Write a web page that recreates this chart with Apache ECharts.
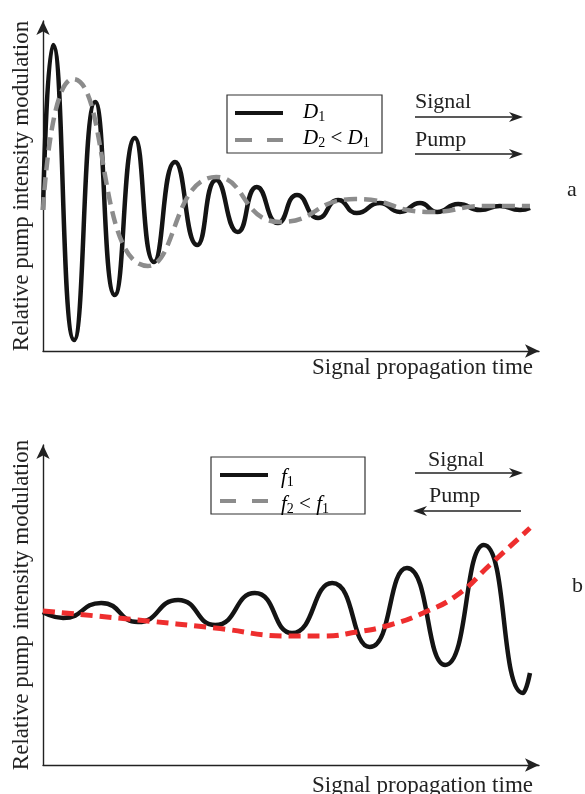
<!DOCTYPE html>
<html>
<head>
<meta charset="utf-8">
<script src="https://cdn.jsdelivr.net/npm/echarts@6/dist/echarts.min.js"></script>
<style>
html, body { margin: 0; padding: 0; background: #fff; }
#chart { width: 585px; height: 794px; }
</style>
</head>
<body>
<div id="chart"></div>
<script>
// time axis: 0..100 along the arrow, modulation: 0 = steady level

// panel a, D1 (extrema)
var timeD1 = [0, 2.0, 6.2, 10.4, 14.3, 18.3, 22.1, 26.3, 30.7, 34.5, 38.8, 42.6, 46.8, 50.6, 54.8, 58.8, 62.5, 67.1, 71.1, 75.1, 78.5, 82.7, 87.1, 91.0, 95.0, 97.0];
var modD1 = [-0.02, 1.63, -1.32, 1.06, -0.87, 0.70, -0.54, 0.46, -0.37, 0.28, -0.24, 0.21, -0.15, 0.13, -0.10, 0.08, -0.05, 0.05, -0.04, 0.05, -0.04, 0.04, -0.02, 0.02, -0.02, 0];

// panel a, D2 < D1
var timeD2 = [0, 6.0, 20.9, 34.5, 47.2, 62.2, 77.1, 88.0, 97.0];
var modD2 = [-0.02, 1.29, -0.58, 0.31, -0.14, 0.09, -0.04, 0.02, 0.02];

// panel b, f1
var timeF1 = [0, 4.0, 11.6, 18.9, 26.9, 34.3, 42.2, 49.6, 57.6, 65.1, 72.5, 80.1, 87.8, 95.6, 97.0];
var modF1 = [-0.01, -0.07, 0.08, -0.11, 0.11, -0.14, 0.18, -0.22, 0.28, -0.36, 0.43, -0.54, 0.66, -0.82, -0.62];

// panel b, f2 < f1
var timeF2 = [0, 18.9, 34.3, 49.4, 55.8, 62.5, 69.1, 75.7, 82.5, 89.0, 97.0];
var modF2 = [0, -0.09, -0.17, -0.25, -0.25, -0.21, -0.14, -0.02, 0.16, 0.46, 0.83];

var serif = '"Liberation Serif", "Times New Roman", serif';
var ink = '#222';

function pairs(xs, ys) {
  return xs.map(function (x, i) { return [x, ys[i]]; });
}

function makeX(grid, padTop) {
  return {
    gridIndex: grid, type: 'value', min: 0, max: 98.8,
    axisLine: { onZero: false, symbol: ['none', 'arrow'], symbolSize: [10, 14], lineStyle: { color: ink, width: 1.4 } },
    axisTick: { show: false }, axisLabel: { show: false }, splitLine: { show: false },
    name: 'Signal propagation time', nameLocation: 'end', nameGap: -6,
    nameTextStyle: { fontFamily: serif, fontSize: 23, color: ink, align: 'right', verticalAlign: 'top', padding: [padTop, 0, 0, 0] }
  };
}

function makeY(grid, min, max) {
  return {
    gridIndex: grid, type: 'value', min: min, max: max,
    axisLine: { onZero: false, symbol: ['none', 'arrow'], symbolSize: [10, 14], lineStyle: { color: ink, width: 1.4 } },
    axisTick: { show: false }, axisLabel: { show: false }, splitLine: { show: false },
    name: 'Relative pump intensity modulation', nameLocation: 'middle', nameGap: 10,
    nameTextStyle: { fontFamily: serif, fontSize: 23, color: ink }
  };
}

function arrow(x1, x2, y) {
  var d = x2 > x1 ? 1 : -1;
  return [
    { type: 'line', shape: { x1: x1, y1: y, x2: x2 - d * 8, y2: y }, style: { stroke: ink, lineWidth: 1.4 } },
    { type: 'polygon', shape: { points: [[x2, y], [x2 - d * 14, y - 5], [x2 - d * 10, y], [x2 - d * 14, y + 5]] }, style: { fill: ink } }
  ];
}

function label(txt, x, y) {
  return { type: 'text', style: { text: txt, x: x, y: y, font: '22px ' + serif, fill: ink, verticalAlign: 'middle' } };
}

var rich = {
  i: { fontFamily: serif, fontSize: 21, fontStyle: 'italic', color: ink },
  n: { fontFamily: serif, fontSize: 21, color: ink },
  s: { fontFamily: serif, fontSize: 14, color: ink, padding: [10, 0, 0, 0] }
};

function legendText(txt, x, y) {
  return { type: 'text', style: { text: txt, rich: rich, x: x, y: y, verticalAlign: 'middle' } };
}

var graphics = [
  // legend a
  { type: 'rect', shape: { x: 227, y: 95, width: 155, height: 58 }, style: { fill: '#fff', stroke: '#333', lineWidth: 1.2 } },
  { type: 'line', shape: { x1: 235, y1: 113, x2: 283, y2: 113 }, style: { stroke: '#141414', lineWidth: 4 } },
  { type: 'line', shape: { x1: 235, y1: 140, x2: 283, y2: 140 }, style: { stroke: '#8c8c8c', lineWidth: 4, lineDash: [17, 15] } },
  legendText('{i|D}{s|1}', 303, 112),
  legendText('{i|D}{s|2}{n| < }{i|D}{s|1}', 303, 138),
  // legend b
  { type: 'rect', shape: { x: 211, y: 457, width: 154, height: 57 }, style: { fill: '#fff', stroke: '#333', lineWidth: 1.2 } },
  { type: 'line', shape: { x1: 220, y1: 475, x2: 268, y2: 475 }, style: { stroke: '#141414', lineWidth: 4 } },
  { type: 'line', shape: { x1: 220, y1: 501, x2: 268, y2: 501 }, style: { stroke: '#8c8c8c', lineWidth: 4, lineDash: [16, 16] } },
  legendText('{i|f}{s|1}', 281, 477),
  legendText('{i|f}{s|2}{n| < }{i|f}{s|1}', 281, 504),
  // direction notes
  label('Signal', 415, 102), label('Pump', 415, 140),
  label('Signal', 428, 460), label('Pump', 429, 496),
  label('a', 567, 190), label('b', 572, 586)
]
  .concat(arrow(415, 523, 117)).concat(arrow(415, 523, 154))
  .concat(arrow(415, 523, 473)).concat(arrow(521, 413, 511));

var chart = echarts.init(document.getElementById('chart'));
chart.setOption({
  animation: false,
  backgroundColor: '#fff',
  grid: [
    { left: 43, top: 21, width: 496, height: 330, outerBoundsMode: 'none' },
    { left: 43, top: 445, width: 496, height: 320, outerBoundsMode: 'none' }
  ],
  xAxis: [makeX(0, 5), makeX(1, 9)],
  yAxis: [makeY(0, -1.43, 1.87), makeY(1, -1.54, 1.66)],
  series: [
    { name: 'D1', type: 'line', xAxisIndex: 0, yAxisIndex: 0, data: pairs(timeD1, modD1), smooth: 0.55, showSymbol: false, symbol: 'none',
      lineStyle: { color: '#141414', width: 4.5 } },
    { name: 'D2 < D1', type: 'line', xAxisIndex: 0, yAxisIndex: 0, data: pairs(timeD2, modD2), smooth: 0.55, showSymbol: false, symbol: 'none',
      lineStyle: { color: '#8c8c8c', width: 4.5, type: [13, 7] } },
    { name: 'f1', type: 'line', xAxisIndex: 1, yAxisIndex: 1, data: pairs(timeF1, modF1), smooth: 0.55, showSymbol: false, symbol: 'none',
      lineStyle: { color: '#141414', width: 4.5 } },
    { name: 'f2 < f1', type: 'line', xAxisIndex: 1, yAxisIndex: 1, data: pairs(timeF2, modF2), smooth: true, showSymbol: false, symbol: 'none',
      lineStyle: { color: '#ee2e2e', width: 5, type: [12, 7] } }
  ],
  graphic: graphics
});
</script>
</body>
</html>
